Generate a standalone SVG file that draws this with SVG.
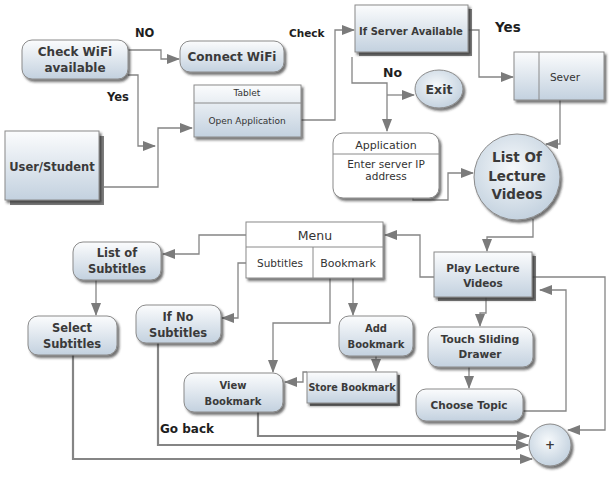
<svg xmlns="http://www.w3.org/2000/svg" width="614" height="477" viewBox="0 0 614 477">
<defs>
<linearGradient id="g" x1="0" y1="0" x2="0" y2="1">
<stop offset="0" stop-color="#fbfcfd"/>
<stop offset="1" stop-color="#c3d1df"/>
</linearGradient>
<radialGradient id="rg" cx="0.45" cy="0.4" r="0.65">
<stop offset="0" stop-color="#f6f9fb"/>
<stop offset="1" stop-color="#c0cfdd"/>
</radialGradient>
<filter id="sh" x="-20%" y="-20%" width="150%" height="150%">
<feDropShadow dx="2" dy="2.5" stdDeviation="1.3" flood-color="#222" flood-opacity="0.65"/>
</filter>
<marker id="ar" markerUnits="userSpaceOnUse" markerWidth="13" markerHeight="10" refX="12" refY="5" orient="auto">
<path d="M0,0 L13,5 L0,10 z" fill="#7b7b7b"/>
</marker>
<style>
.n{fill:url(#g);stroke:#8a8a8a;stroke-width:1;filter:url(#sh)}
.w{fill:#fff;stroke:#8a8a8a;stroke-width:1;filter:url(#sh)}
.c{fill:url(#rg);stroke:#8a8a8a;stroke-width:1;filter:url(#sh)}
.d{fill:#555;opacity:0.75}
.dv{stroke:#8a8a8a;stroke-width:1}
.t{font-family:"DejaVu Sans",Verdana,sans-serif;font-weight:bold;fill:#3a3a3a;text-anchor:middle}
.r{font-family:"DejaVu Sans",Verdana,sans-serif;fill:#333;text-anchor:middle}
.l{font-family:"DejaVu Sans",Verdana,sans-serif;font-weight:bold;fill:#1e1e1e}
.e path{fill:none;stroke:#858585;stroke-width:1.3;marker-end:url(#ar)}
.e path.k{stroke-width:2.2}
</style>
</defs>
<rect width="614" height="477" fill="#fff"/>

<g id="connectors" class="e">
<path d="M128,50 H161 V59 H179"/>
<path d="M128,75 H138 V146 H155"/>
<path d="M104,187 H158 V128 H192"/>
<path d="M301,120 H335 V30 H354"/>
<path d="M468,30 H479 V77 H513"/>
<path d="M352,57 V83 H387 V131"/>
<path d="M387,95 H414"/>
<path d="M413,198 V200 H448 V173 H473"/>
<path d="M560,100 V144 H546"/>
<path d="M533,219 V237 H487 V251"/>
<path d="M434,277 H420 V235 H385"/>
<path d="M246,235 H199 V254 H163"/>
<path d="M96,280 V315"/>
<path d="M246,263 H238 V318 H222"/>
<path d="M330,278 V323 H273 V372"/>
<path d="M353,278 V315"/>
<path d="M376,356 V371"/>
<path d="M307,372 H303 V382 H285"/>
<path d="M486,297 V313 H480 V326"/>
<path d="M469,367 V388"/>
<path d="M523,411 H566 V290 H540"/>
<path d="M532,277 H605 V430 H568"/>
<path class="k" d="M258,412 V436 H529"/>
<path class="k" d="M158,343 V445 H528"/>
<path class="k" d="M73,355 V459 H532"/>
</g>

<g id="labels">
<text class="l" x="135" y="37" font-size="11.5">NO</text>
<text class="l" x="107" y="101" font-size="11.5">Yes</text>
<text class="l" x="289" y="37" font-size="10.5">Check</text>
<text class="l" x="495" y="32" font-size="13.5">Yes</text>
<text class="l" x="383" y="77" font-size="12.5">No</text>
<text class="l" x="160" y="433" font-size="12">Go back</text>
</g>

<g id="check-wifi">
<rect class="n" x="22" y="40" width="106" height="39" rx="10"/>
<text class="t" x="75" y="56" font-size="12">Check WiFi</text>
<text class="t" x="75" y="72" font-size="12">available</text>
</g>

<g id="connect-wifi">
<rect class="n" x="180" y="41" width="104" height="31" rx="10"/>
<text class="t" x="232" y="61" font-size="12">Connect WiFi</text>
</g>

<g id="user-student">
<rect class="d" x="10" y="136" width="94" height="69"/>
<rect class="n" x="5" y="131" width="94" height="69"/>
<text class="t" x="52" y="171" font-size="11.5">User/Student</text>
</g>

<g id="tablet">
<rect class="n" x="194" y="85" width="107" height="52"/>
<line class="dv" x1="194" y1="103" x2="301" y2="103"/>
<text class="r" x="247" y="96" font-size="9">Tablet</text>
<text class="r" x="247" y="124" font-size="9">Open Application</text>
</g>

<g id="if-server">
<rect class="d" x="359" y="9" width="113" height="47"/>
<rect class="n" x="355" y="5" width="113" height="47"/>
<text class="t" x="411" y="35" font-size="10">If Server Available</text>
</g>

<g id="exit">
<ellipse class="c" cx="439" cy="89" rx="24" ry="19"/>
<text class="t" x="439" y="94" font-size="12.5">Exit</text>
</g>

<g id="sever">
<rect class="n" x="514" y="52" width="90" height="48"/>
<line class="dv" x1="539" y1="52" x2="539" y2="100"/>
<text class="r" x="565" y="81" font-size="10.5">Sever</text>
</g>

<g id="application">
<rect class="w" x="333" y="133" width="106" height="65" rx="10"/>
<line class="dv" x1="333" y1="154" x2="439" y2="154"/>
<text class="r" x="386" y="149" font-size="11">Application</text>
<text class="r" x="386" y="168" font-size="10.5">Enter server IP</text>
<text class="r" x="386" y="180" font-size="10.5">address</text>
</g>

<g id="list-lecture-videos">
<circle class="c" cx="517" cy="177" r="43"/>
<text class="t" x="517" y="162" font-size="13.5">List Of</text>
<text class="t" x="517" y="181" font-size="13.5">Lecture</text>
<text class="t" x="517" y="199" font-size="13.5">Videos</text>
</g>

<g id="menu">
<rect class="w" x="246" y="222" width="137" height="56"/>
<line class="dv" x1="246" y1="247" x2="383" y2="247"/>
<line class="dv" x1="313" y1="247" x2="313" y2="278"/>
<text class="r" x="315" y="240" font-size="12.5">Menu</text>
<text class="r" x="280" y="267" font-size="10.5">Subtitles</text>
<text class="r" x="348" y="267" font-size="11">Bookmark</text>
</g>

<g id="play-lecture">
<rect class="d" x="438" y="256" width="98" height="45"/>
<rect class="n" x="434" y="252" width="98" height="45"/>
<text class="t" x="483" y="272" font-size="10.5">Play Lecture</text>
<text class="t" x="483" y="287" font-size="10.5">Videos</text>
</g>

<g id="list-subtitles">
<rect class="n" x="73" y="242" width="88" height="38" rx="10"/>
<text class="t" x="117" y="257" font-size="11.5">List of</text>
<text class="t" x="117" y="273" font-size="11.5">Subtitles</text>
</g>

<g id="select-subtitles">
<rect class="n" x="28" y="316" width="89" height="39" rx="10"/>
<text class="t" x="72" y="332" font-size="11.5">Select</text>
<text class="t" x="72" y="348" font-size="11.5">Subtitles</text>
</g>

<g id="if-no-subtitles">
<rect class="n" x="136" y="305" width="85" height="38" rx="10"/>
<text class="t" x="178" y="321" font-size="11.5">If No</text>
<text class="t" x="178" y="337" font-size="11.5">Subtitles</text>
</g>

<g id="add-bookmark">
<rect class="n" x="339" y="316" width="74" height="40" rx="10"/>
<text class="t" x="376" y="332" font-size="10">Add</text>
<text class="t" x="376" y="348" font-size="10">Bookmark</text>
</g>

<g id="store-bookmark">
<rect class="d" x="310" y="375" width="90" height="31"/>
<rect class="n" x="307" y="372" width="90" height="31"/>
<text class="t" x="352" y="391" font-size="9.6">Store Bookmark</text>
</g>

<g id="view-bookmark">
<rect class="n" x="184" y="373" width="99" height="39" rx="10"/>
<text class="t" x="233" y="389" font-size="10">View</text>
<text class="t" x="233" y="405" font-size="10">Bookmark</text>
</g>

<g id="touch-drawer">
<rect class="n" x="428" y="327" width="105" height="40" rx="10"/>
<text class="t" x="480" y="343" font-size="10.5">Touch Sliding</text>
<text class="t" x="480" y="358" font-size="10.5">Drawer</text>
</g>

<g id="choose-topic">
<rect class="n" x="416" y="389" width="107" height="32" rx="10"/>
<text class="t" x="469" y="409" font-size="10.5">Choose Topic</text>
</g>

<g id="plus">
<circle class="c" cx="550" cy="445" r="21"/>
<text class="t" x="550" y="449" font-size="12">+</text>
</g>
</svg>
